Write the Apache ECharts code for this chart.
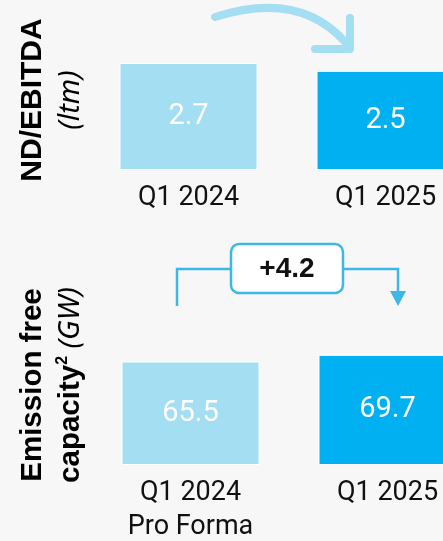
<!DOCTYPE html>
<html>
	<head>
		<meta charset="UTF-8">
		<title></title>
		<style>
			html, body { margin: 0; padding: 0; background: #f7f7f7; }
		</style>
	</head>
	<body>
		<div id="main" style="width:443px;height:541px;"></div>
	</body>
	<script src="https://cdn.jsdelivr.net/npm/echarts@6/dist/echarts.min.js" type="text/javascript" charset="utf-8"></script>
	<script type="text/javascript">
		// data
		var ndCategories = ['Q1 2024', 'Q1 2025'];
		var ndValues = [2.7, 2.5];
		var capCategories = ['Q1 2024\nPro Forma', 'Q1 2025'];
		var capValues = [65.5, 69.7];

		var lightBlue = '#a3def2';
		var darkBlue = '#00b0f0';
		var lineBlue = '#3db7e7';
		var fontMain = 'Roboto, "Liberation Sans", sans-serif';
		var fontBold = '"Liberation Sans", Arial, sans-serif';
		var fontItalic = '"Noto Sans", "Open Sans", sans-serif';

		var myChart = echarts.init(document.getElementById('main'));

		function barData(values) {
			return values.map(function (v, i) {
				return {
					value: v,
					itemStyle: { color: i === 0 ? lightBlue : darkBlue }
				};
			});
		}

		var delta = '+' + (capValues[1] - capValues[0]).toFixed(1);

		var option = {
			backgroundColor: '#f7f7f7',
			animation: false,
			grid: [
				{ left: 90, width: 394, top: 51, height: 119, outerBoundsMode: 'none' },
				{ left: 92, width: 394, top: 338.6, height: 126.4, outerBoundsMode: 'none' }
			],
			xAxis: [0, 1].map(function (i) {
				return {
					type: 'category',
					gridIndex: i,
					data: i === 0 ? ndCategories : capCategories,
					axisLine: { show: false },
					axisTick: { show: false },
					axisLabel: {
						margin: 11,
						color: '#111',
						fontSize: 27,
						lineHeight: 34,
						fontFamily: fontMain
					}
				};
			}),
			yAxis: [
				{ type: 'value', gridIndex: 0, min: 0, max: 3, show: false },
				{ type: 'value', gridIndex: 1, min: 0, max: 80, show: false }
			],
			series: [
				{
					type: 'bar',
					xAxisIndex: 0,
					yAxisIndex: 0,
					barWidth: 138,
					data: barData(ndValues),
					itemStyle: { borderColor: '#ffffff', borderWidth: 1 },
					label: {
						show: true,
						position: 'inside',
						color: '#fff',
						fontSize: 29,
						fontFamily: fontMain
					}
				},
				{
					type: 'bar',
					xAxisIndex: 1,
					yAxisIndex: 1,
					barWidth: 138,
					data: barData(capValues),
					itemStyle: { borderColor: '#ffffff', borderWidth: 1 },
					label: {
						show: true,
						position: 'inside',
						color: '#fff',
						fontSize: 29,
						fontFamily: fontMain
					}
				}
			],
			graphic: [
				// axis titles
				{
					type: 'text',
					x: 52, y: 100,
					rotation: Math.PI / 2,
					style: {
						text: '{a|ND/EBITDA}\n{b|(ltm)}',
						align: 'center',
						verticalAlign: 'middle',
						rich: {
							a: { fontSize: 30, fontWeight: 'bold', fontFamily: fontBold, color: '#111', lineHeight: 38 },
							b: { fontSize: 29, fontStyle: 'italic', fontFamily: fontItalic, color: '#111', lineHeight: 38 }
						}
					}
				},
				{
					type: 'text',
					x: 52, y: 385,
					rotation: Math.PI / 2,
					style: {
						text: '{a|Emission free}\n{a|capacity}{s|2}{b| (GW)}',
						align: 'center',
						verticalAlign: 'middle',
						rich: {
							a: { fontSize: 29.5, fontWeight: 'bold', fontFamily: fontBold, color: '#111', lineHeight: 38 },
							s: { fontSize: 16, fontWeight: 'bold', fontFamily: fontBold, color: '#111', lineHeight: 38, verticalAlign: 'top', padding: [3, 0, 0, 0] },
							b: { fontSize: 29, fontStyle: 'italic', fontFamily: fontItalic, color: '#111', lineHeight: 38 }
						}
					}
				},
				// top curved arrow
				{
					type: 'bezierCurve',
					shape: { x1: 215, y1: 17, cpx1: 300, cpy1: -10, x2: 346, y2: 43 },
					style: { stroke: lightBlue, lineWidth: 8, lineCap: 'round', fill: null }
				},
				{
					type: 'polyline',
					shape: { points: [[350, 18], [350, 49], [315, 49]] },
					style: { stroke: lightBlue, lineWidth: 8, lineCap: 'round', lineJoin: 'round', fill: null }
				},
				// bottom bracket
				{
					type: 'polyline',
					shape: { points: [[177, 306], [177, 269], [231, 269]] },
					style: { stroke: lineBlue, lineWidth: 2.5, fill: null }
				},
				{
					type: 'polyline',
					shape: { points: [[343, 269], [398, 269], [398, 292]] },
					style: { stroke: lineBlue, lineWidth: 2.5, fill: null }
				},
				{
					type: 'polygon',
					shape: { points: [[390, 291], [406, 291], [398, 306]] },
					style: { fill: lineBlue }
				},
				{
					type: 'rect',
					shape: { x: 231, y: 244, width: 112, height: 49, r: 8 },
					style: { fill: '#fff', stroke: lineBlue, lineWidth: 2.5 }
				},
				{
					type: 'text',
					x: 287, y: 269,
					style: {
						text: delta,
						align: 'center',
						verticalAlign: 'middle',
						fontSize: 28,
						fontWeight: 'bold',
						fontFamily: fontBold,
						fill: '#111'
					}
				}
			]
		};
		myChart.setOption(option);
	</script>
</html>
